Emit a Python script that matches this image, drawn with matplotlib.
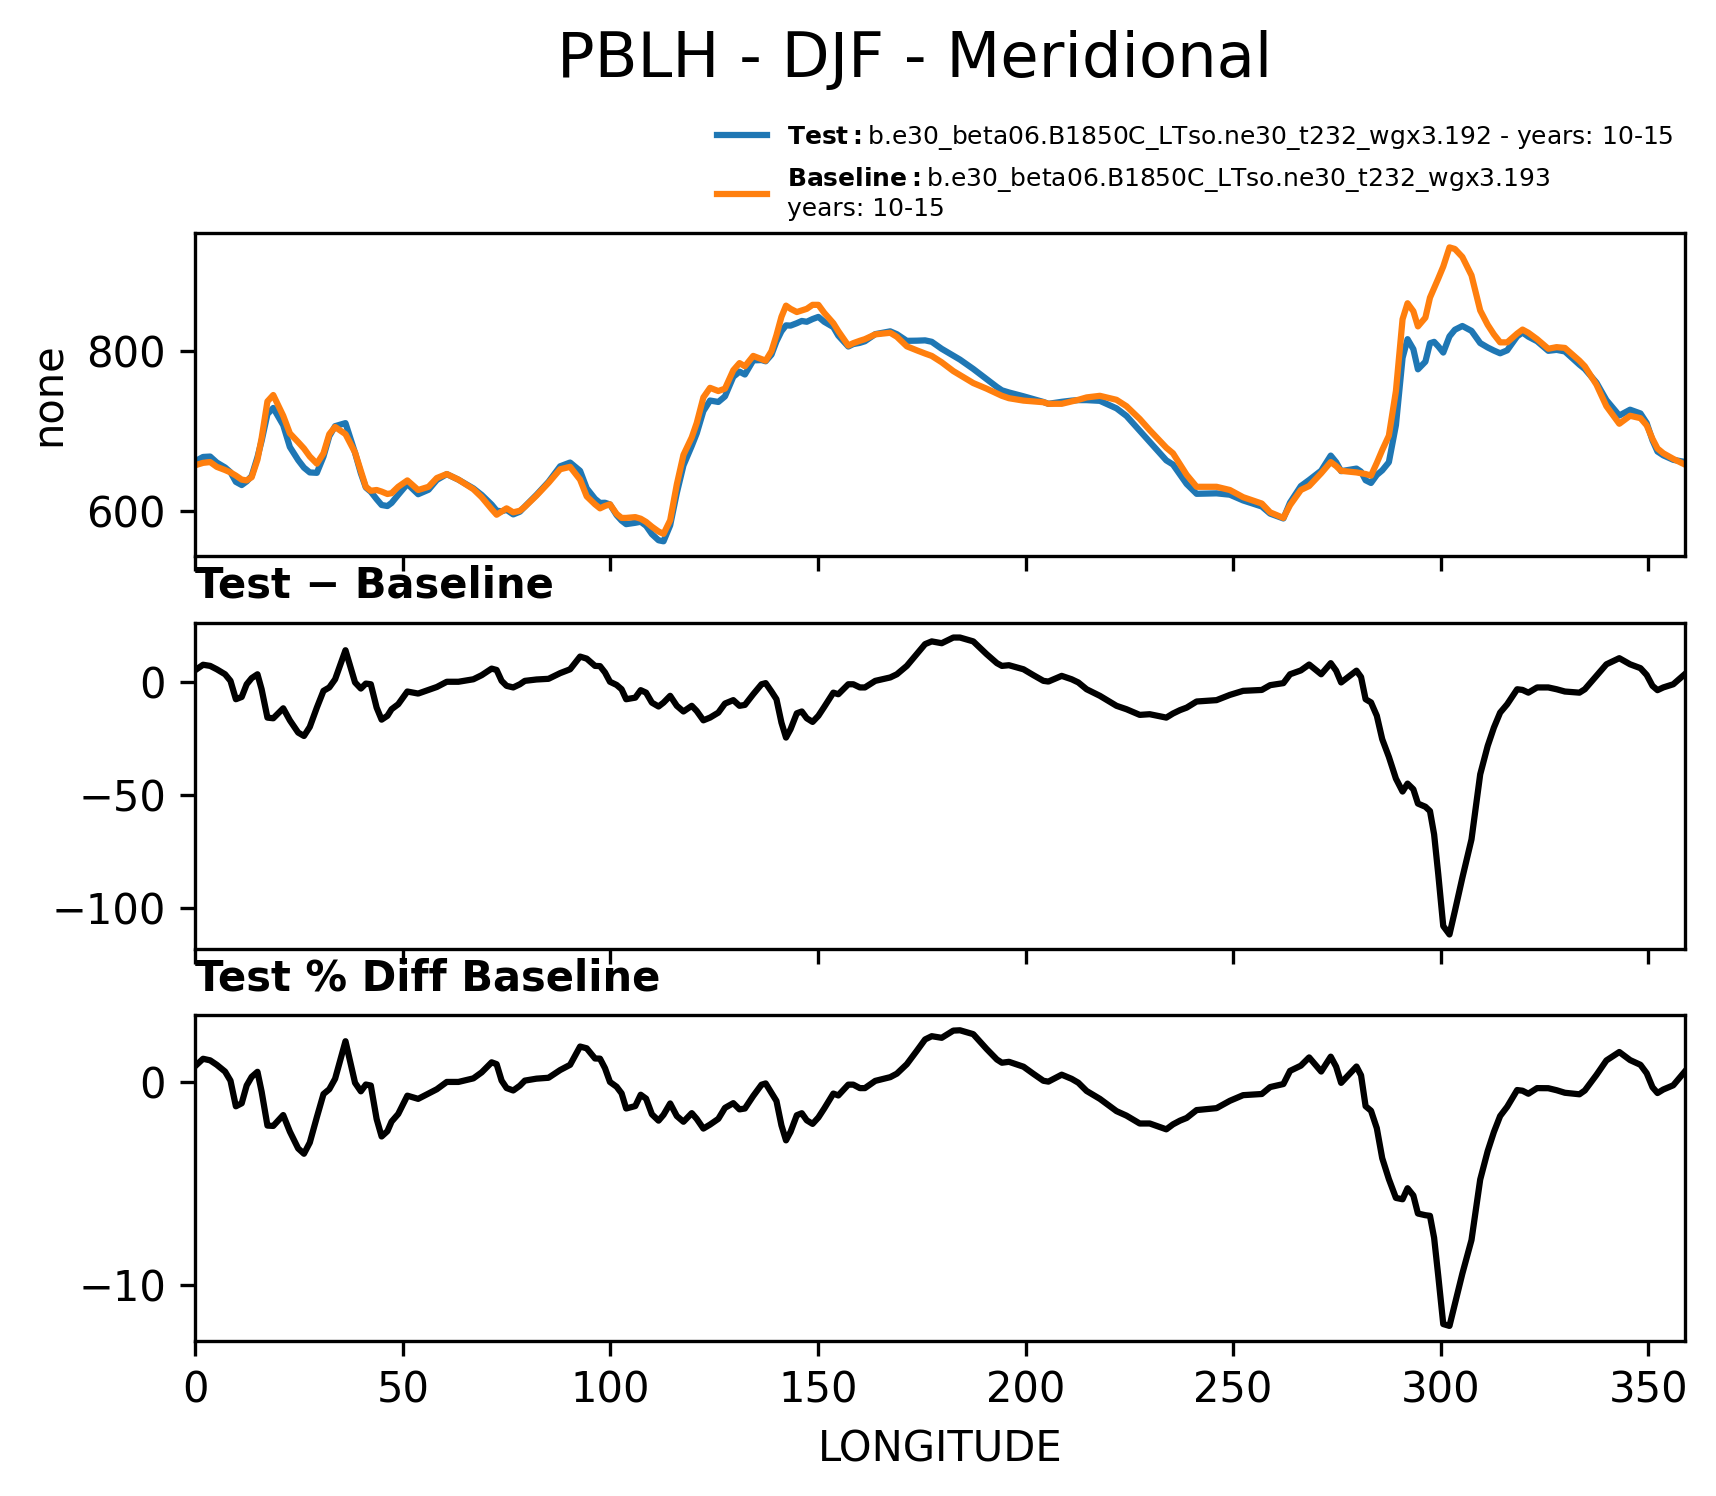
import numpy as np
import matplotlib
matplotlib.use("Agg")
import matplotlib.pyplot as plt
from matplotlib.ticker import MaxNLocator

# longitude points (deg east)
lon = [0.0, 1.9, 3.6, 5.2, 7.2, 8.5, 9.8, 11.2, 12.4, 13.6, 15.0, 16.0, 17.4, 18.8,
       21.2, 22.8, 24.8, 26.2, 27.6, 29.3, 30.9, 32.3, 33.7, 36.2, 38.5, 39.9, 41.1,
       42.3, 43.7, 44.9, 46.3, 47.3, 48.9, 51.1, 53.7, 56.2, 58.2, 60.6, 63.4, 67.0,
       69.0, 71.4, 72.6, 73.8, 75.0, 76.6, 78.2, 79.4, 82.2, 85.1, 87.9, 90.3, 92.7,
       94.3, 96.3, 97.5, 98.7, 99.9, 101.5, 102.7, 103.8, 106.0, 107.3, 108.6, 110.0,
       111.6, 112.8, 114.4, 116.0, 117.6, 119.6, 120.8, 122.4, 124.0, 126.0, 127.6,
       129.6, 131.1, 132.4, 134.4, 136.4, 137.4, 138.8, 140.0, 141.2, 142.3, 143.4,
       144.9, 146.1, 147.3, 148.7, 150.1, 151.5, 153.7, 154.9, 157.3, 158.5, 160.1,
       161.3, 163.8, 167.4, 169.0, 171.4, 173.8, 175.8, 177.4, 179.8, 182.6, 184.2,
       187.4, 190.6, 193.1, 194.3, 196.0, 199.5, 201.9, 204.3, 205.5, 208.7, 211.1,
       212.7, 214.7, 217.9, 221.9, 224.3, 227.5, 229.9, 233.9, 235.5, 237.2, 238.8,
       241.2, 246.0, 249.2, 252.4, 256.9, 258.9, 262.1, 263.7, 266.3, 268.3, 271.2,
       273.5, 274.8, 276.0, 279.7, 280.8, 281.9, 283.2, 284.6, 285.9, 287.5, 289.2,
       290.8, 292.0, 293.4, 294.5, 296.3, 297.4, 298.4, 299.4, 300.6, 302.1, 303.4,
       305.2, 307.4, 309.5, 311.3, 312.8, 314.3, 316.0, 318.4, 319.7, 321.1, 323.2,
       325.9, 327.9, 329.9, 333.4, 334.7, 337.5, 339.9, 343.0, 345.6, 348.1, 349.6,
       351.0, 352.2, 353.6, 356.0, 358.75]

# PBLH, test case
test_vals = [662.0, 667.4, 667.9, 660.4, 654.2, 648.3, 636.2, 632.2, 636.8, 643.5, 667.2,
             687.6, 721.1, 728.8, 707.2, 679.9, 663.5, 654.0, 648.0, 647.5, 667.9, 693.4,
             706.0, 709.8, 672.6, 646.9, 629.1, 623.8, 614.5, 607.2, 605.9, 609.8, 620.0,
             633.6, 620.7, 626.3, 638.6, 645.9, 638.9, 628.0, 619.8, 607.7, 600.1, 599.3,
             601.1, 595.4, 598.8, 605.3, 619.9, 636.2, 655.7, 660.4, 650.0, 628.1, 614.9,
             609.8, 610.0, 607.9, 594.5, 587.6, 583.2, 584.9, 586.2, 581.1, 570.7, 563.0,
             561.7, 581.7, 622.3, 656.8, 681.3, 697.0, 724.9, 738.1, 736.3, 743.3, 767.8,
             774.3, 770.7, 788.4, 788.8, 787.3, 795.6, 812.2, 824.9, 832.3, 832.0, 835.0,
             837.8, 836.8, 840.2, 842.9, 836.8, 830.1, 819.4, 805.8, 808.8, 810.4, 812.4,
             821.3, 824.8, 821.2, 812.9, 813.1, 813.5, 811.7, 802.9, 794.4, 789.4, 777.7,
             765.1, 755.1, 750.9, 748.2, 743.4, 739.8, 736.3, 734.0, 736.5, 738.0, 738.6,
             738.6, 737.7, 728.3, 718.8, 700.3, 686.6, 663.1, 657.9, 645.4, 633.5, 621.2,
             621.8, 620.1, 612.9, 605.3, 596.4, 590.3, 610.2, 630.9, 638.5, 650.2, 669.1,
             660.8, 649.6, 652.8, 649.0, 638.2, 634.8, 644.9, 650.6, 660.8, 707.2, 791.5,
             815.0, 802.5, 777.2, 786.8, 809.9, 811.6, 806.0, 798.2, 818.5, 826.8, 831.5,
             825.4, 810.1, 804.6, 800.7, 797.3, 801.0, 818.6, 823.3, 818.1, 812.4, 800.4,
             801.6, 799.6, 783.1, 777.6, 760.5, 738.6, 719.3, 726.6, 721.9, 709.9, 688.1,
             674.2, 669.4, 663.8, 661.2]

# PBLH, baseline case
base_vals = [657, 660, 661, 655, 651, 648, 644, 639, 638, 642, 664, 691, 737, 745, 719,
             697, 686, 678, 668, 659, 672, 696, 705, 696, 673, 650, 630, 625, 626, 624,
             621, 622, 630, 638, 626, 630, 641, 646, 639, 627, 617, 602, 595, 599, 603,
             598, 600, 605, 619, 635, 652, 655, 639, 618, 608, 603, 606, 608, 596, 591,
             591, 592, 590, 586, 580, 574, 571, 588, 633, 670, 692, 710, 742, 754, 750,
             753, 776, 785, 781, 794, 790, 788, 800, 820, 843, 857, 853, 849, 851, 853,
             858, 858, 848, 835, 825, 807, 810, 813, 815, 821, 823, 818, 806, 801, 797,
             794, 786, 775, 770, 760, 753, 747, 744, 741, 738, 737, 736, 734, 734, 737,
             739, 742, 744, 739, 731, 715, 701, 679, 672, 658, 645, 630, 630, 626, 617,
             609, 598, 591, 607, 626, 631, 647, 661, 656, 650, 648, 647, 646, 644, 660,
             676, 694, 750, 840, 860, 850, 831, 842, 867, 879, 891, 906, 930, 928, 918,
             895, 851, 833, 821, 811, 811, 822, 827, 823, 815, 803, 805, 804, 788, 781,
             758, 731, 709, 719, 716, 707, 690, 678, 672, 665, 658]

test_name = "b.e30_beta06.B1850C_LTso.ne30_t232_wgx3.192"
base_name = "b.e30_beta06.B1850C_LTso.ne30_t232_wgx3.193"
years = "10-15"

lon = np.array(lon)
test = np.array(test_vals)
base = np.array(base_vals, dtype=float)
diff = test - base
pct = diff / base * 100.0

fig = plt.figure(figsize=(5.72, 4.9867), dpi=300)
left, width = 0.11375, 0.8680
ax1 = fig.add_axes([left, 0.62834, width, 0.21611])
ax2 = fig.add_axes([left, 0.36544, width, 0.21832], sharex=ax1)
ax3 = fig.add_axes([left, 0.10381, width, 0.21738], sharex=ax1)

fig.text(0.533, 0.9483, "PBLH - DJF - Meridional", fontsize=15,
         ha="center", va="baseline")

# top panel: both cases
ax1.plot(lon, test, color="C0", lw=1.5,
         label=r"$\bf{Test}:$" + test_name + " - years: " + years)
ax1.plot(lon, base, color="C1", lw=1.5,
         label=r"$\bf{Baseline}:$" + base_name + "\nyears: " + years)
ax1.set_ylabel("none")
ax1.legend(loc="lower right", bbox_to_anchor=(1.0, 1.0), frameon=False,
           fontsize=6, borderaxespad=0.05)

# middle: absolute difference
ax2.plot(lon, diff, color="k", lw=1.5)
ax2.set_title("Test \u2212 Baseline", loc="left", fontweight="bold", fontsize=10)

# bottom: percent difference
ax3.plot(lon, pct, color="k", lw=1.5)
ax3.set_title("Test % Diff Baseline", loc="left", fontweight="bold", fontsize=10)
ax3.set_xlabel("LONGITUDE")

for ax in (ax1, ax2, ax3):
    ax.yaxis.set_major_locator(MaxNLocator(nbins=3, steps=[1, 2, 5, 10]))
ax1.set_xlim(lon[0], lon[-1])
ax1.tick_params(labelbottom=False)
ax2.tick_params(labelbottom=False)

fig.savefig("out.png", dpi=300)
